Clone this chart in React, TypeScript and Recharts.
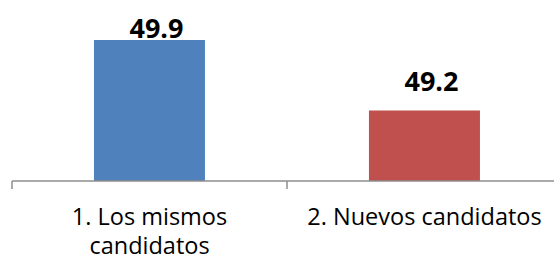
import React from "react";
import { BarChart, Bar, XAxis, YAxis, Cell, LabelList } from "recharts";

const categories = ["1. Los mismos candidatos", "2. Nuevos candidatos"];
const values = [49.9, 49.2];
const colors = ["#4F81BD", "#C0504D"];
const boundaryTicks = [0, 1, 2];
const yDomain = [48.5, 50];

const data = categories.map((name, i) => ({ name, value: values[i], idx: i }));

const FONT = "'Open Sans', Calibri, Carlito, sans-serif";

function wrap(text: string, maxChars: number): string[] {
  const words = text.split(" ");
  const lines: string[] = [];
  let cur = "";
  for (const w of words) {
    const next = cur ? cur + " " + w : w;
    if (next.length > maxChars && cur) {
      lines.push(cur);
      cur = w;
    } else {
      cur = next;
    }
  }
  if (cur) lines.push(cur);
  return lines;
}

const CategoryTick = (props: any) => {
  const { x, y, payload } = props;
  const lines = wrap(String(payload.value), 20);
  return (
    <g>
      {lines.map((l, i) => (
        <text
          key={i}
          x={x}
          y={y + 44 + i * 29}
          textAnchor="middle"
          fontFamily={FONT}
          fontSize={23.5}
          fill="#000"
        >
          {l}
        </text>
      ))}
    </g>
  );
};

const BoundTick = (props: any) => {
  const { x, y } = props;
  return <line x1={x} x2={x} y1={y} y2={y + 8} stroke="#8E8E8E" strokeWidth={1.5} />;
};

const ValueLabel = (props: any) => {
  const { x, y, width, value } = props;
  const baseline = Math.max(y - 20, 37.5);
  return (
    <text
      x={x + width / 2 + 7}
      y={baseline}
      textAnchor="middle"
      fontFamily={FONT}
      fontWeight={700}
      fontSize={27}
      fill="#000"
    >
      {Number(value).toFixed(1)}
    </text>
  );
};

export default function App() {
  return (
    <div
      style={{
        position: "absolute",
        left: 0,
        top: 0,
        width: 554,
        height: 257,
        overflow: "hidden",
        background: "#fff",
      }}
    >
      <BarChart
        width={570}
        height={257}
        data={data}
        margin={{ top: 30, right: 8, left: 12, bottom: 76 }}
        barCategoryGap="29.8%"
      >
        <XAxis
          xAxisId="bounds"
          type="number"
          dataKey="idx"
          domain={[0, 2]}
          ticks={boundaryTicks}
          height={0.01}
          axisLine={false}
          tickLine={false}
          tickSize={0}
          tickMargin={0}
          tick={<BoundTick />}
          interval={0}
        />
        <XAxis
          dataKey="name"
          height={0.01}
          interval={0}
          axisLine={{ stroke: "#8E8E8E", strokeWidth: 1.5 }}
          tickLine={false}
          tickSize={0}
          tickMargin={0}
          tick={<CategoryTick />}
        />
        <YAxis hide domain={yDomain} allowDataOverflow />
        <Bar dataKey="value" isAnimationActive={false}>
          {data.map((d, i) => (
            <Cell key={i} fill={colors[i]} />
          ))}
          <LabelList dataKey="value" content={<ValueLabel />} />
        </Bar>
      </BarChart>
    </div>
  );
}
